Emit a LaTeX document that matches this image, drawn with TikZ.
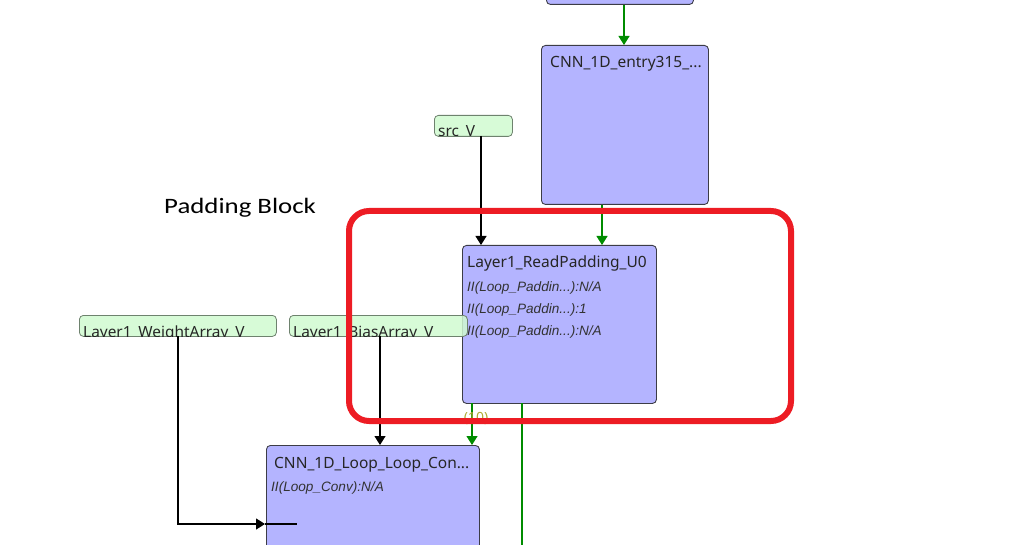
\documentclass[tikz,border=0pt]{standalone}
\usepackage{fontspec}
\setmainfont{Noto Sans}
\newfontfamily\calib{Carlito}
\newfontfamily\arialit{Liberation Sans}
\usetikzlibrary{arrows.meta}
\definecolor{blkfill}{RGB}{180,180,255}
\definecolor{blkline}{RGB}{60,60,70}
\definecolor{portfill}{RGB}{208,250,208}
\definecolor{portline}{RGB}{110,130,110}
\definecolor{grn}{RGB}{0,140,0}
\definecolor{redbox}{RGB}{237,28,36}
\definecolor{olive}{RGB}{175,170,50}
\tikzset{
  blk/.style={draw=blkline, fill=blkfill, rounded corners=4pt, line width=0.9pt, anchor=north west, inner sep=0pt},
  port/.style={draw=portline, fill=portfill, fill opacity=0.85, rounded corners=4pt, line width=0.8pt, anchor=north west, inner sep=0pt, minimum height=21pt},
  ttl/.style={anchor=base west, inner sep=0pt, font=\fontsize{15.5}{16}\selectfont, text=black!85},
  sub/.style={anchor=base west, inner sep=0pt, font=\arialit\fontsize{13.6}{15}\selectfont\itshape, text=black!80},
  ptxt/.style={anchor=base west, inner sep=0pt, font=\fontsize{15.4}{16}\selectfont, text=black!85},
  dat/.style={line width=1.2pt, black},
  ctl/.style={line width=1.2pt, grn},
  tip/.style={-{Triangle[width=11pt,length=9pt]}},
}
\begin{document}
\begin{tikzpicture}[x=1pt,y=-1pt]
\useasboundingbox (0,0) rectangle (1009,545);
% blocks
\node[blk, minimum width=147pt, minimum height=34pt] (top) at (546,-30) {};
\node[blk, minimum width=167pt, minimum height=159pt] (entry) at (541,45) {};
\node[ttl] (entryt) at (550,68) {CNN\_1D\_entry315\_...};
\node[blk, minimum width=194pt, minimum height=158pt] (rp) at (462,245) {};
\node[ttl] (rpt) at (467,268) {Layer1\_ReadPadding\_U0};
\node[sub] (rp1) at (467,291.5) {II(Loop\_Paddin...):N/A};
\node[sub] (rp2) at (467,313.5) {II(Loop\_Paddin...):1};
\node[sub] (rp3) at (467,335.5) {II(Loop\_Paddin...):N/A};
\node[blk, minimum width=213pt, minimum height=140pt] (conv) at (266,445) {};
\node[ttl] (convt) at (274,468) {CNN\_1D\_Loop\_Loop\_Con...};
\node[sub] (conv1) at (271,491.5) {II(Loop\_Conv):N/A};
% ports
\node[port, minimum width=78pt] (src) at (434,115) {};
\begin{scope}
  \clip[rounded corners=4pt] (434,115) rectangle (512,136);
  \node[ptxt] (srct) at (438,137) {src\_V};
\end{scope}
\node[port, minimum width=197pt] (wa) at (79,315) {};
\begin{scope}
  \clip[rounded corners=4pt] (79,315) rectangle (276,336);
  \node[ptxt] (wat) at (83,337) {Layer1\_WeightArray\_V};
\end{scope}
\node[port, minimum width=178pt] (ba) at (289,315) {};
\begin{scope}
  \clip[rounded corners=4pt] (289,315) rectangle (467,336);
  \node[ptxt] (bat) at (293,337) {Layer1\_BiasArray\_V};
\end{scope}
% connectors
\coordinate (srcout) at (481,136);
\coordinate (baout) at (380,336);
\coordinate (waout) at (178,336);
\coordinate (wain) at (265,524);
\coordinate (waend) at (297,524);
\coordinate (rpout1) at (472,403);
\coordinate (rpout2) at (522,403);
\coordinate (rpdown) at (522,545);
\draw[ctl, tip] (top.south -| 624,0) -- (entry.north -| 624,0);
\draw[ctl, tip] (entry.south -| 602,0) -- (rp.north -| 602,0);
\draw[dat, tip] (srcout) -- (rp.north -| srcout);
\draw[dat, tip] (baout) -- (conv.north -| baout);
\draw[dat, tip] (waout) |- (wain);
\draw[dat] (wain) -- (waend);
\draw[ctl, tip] (rpout1) -- (conv.north -| rpout1);
\draw[ctl] (rpout2) -- (rpdown);
\node[anchor=base, inner sep=0pt, font=\fontsize{14}{15}\selectfont, text=olive] (lbl) at (476,422) {(10)};
% highlight
\draw[redbox, line width=6pt, rounded corners=20pt] (349,211) rectangle (791,421);
\node[anchor=base west, inner sep=0pt, font=\calib\fontsize{22}{24}\selectfont] (pb) at (164,214) {\scalebox{1.22}[1]{Padding Block}};
\end{tikzpicture}
\end{document}
